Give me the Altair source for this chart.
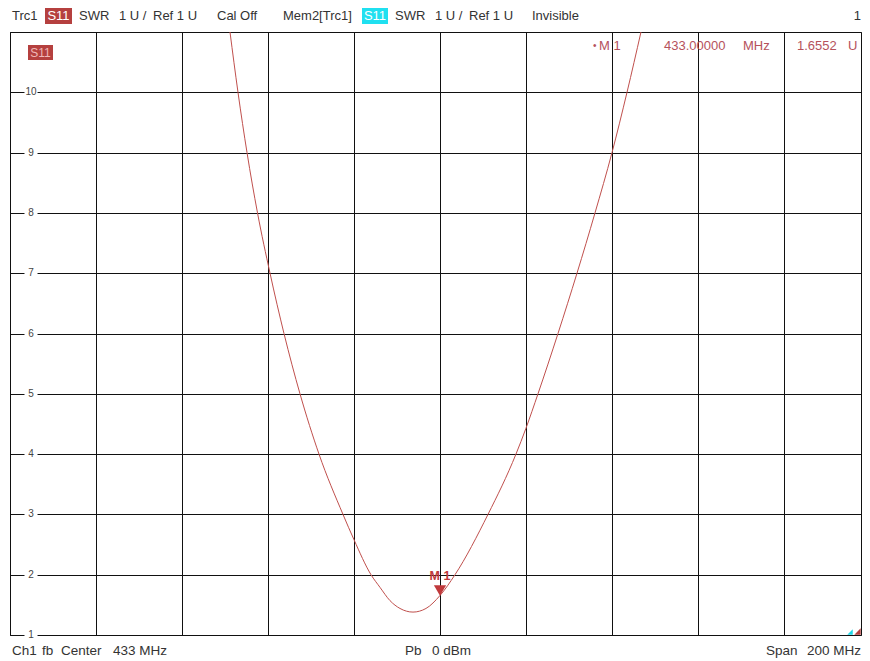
import altair as alt
import pandas as pd

# ---- data ----
freq_mhz = [384.16, 386.02, 388.12, 390.56, 393.47, 396.72, 400.44, 404.86, 410.44,
            413.0, 416.95, 419.05, 421.37, 423.70, 426.72, 429.74, 433.0, 436.49,
            444.16, 450.67, 453.0, 455.79, 460.44, 464.86, 469.05, 473.0, 476.49, 479.74]
swr_u = [11.0, 10.0, 9.0, 8.0, 7.0, 6.0, 5.0, 4.0, 3.0,
         2.58, 2.0, 1.79, 1.57, 1.44, 1.38, 1.44, 1.6552, 2.0,
         3.0, 4.0, 4.43, 5.0, 6.0, 7.0, 8.0, 9.0, 10.0, 11.0]

x_ticks = [333, 353, 373, 393, 413, 433, 453, 473, 493, 513, 533]
y_ticks = [1, 2, 3, 4, 5, 6, 7, 8, 9, 10, 11]
y_labels = ["1", "2", "3", "4", "5", "6", "7", "8", "9", "10"]
y_label_vals = [1, 2, 3, 4, 5, 6, 7, 8, 9, 10]

marker_f = [433.0]
marker_v = [1.6552]
marker_name = ["M 1"]

header_texts = ["Trc1", "SWR", "1 U /", "Ref 1 U", "Cal Off", "Mem2[Trc1]",
                "SWR", "1 U /", "Ref 1 U", "Invisible"]
header_x = [2, 69, 109, 143, 207, 273, 385, 425, 459, 522]
footer_texts = ["Ch1", "fb", "Center", "433 MHz", "Pb", "0 dBm", "Span"]
footer_x = [2, 32, 51, 103, 395, 422, 756]
footer_right = "200 MHz"

W, H = 851, 603
PX_PER_MHZ = 4.3
FONT = "Liberation Sans"
TRACE = "#c0504d"
MK = "#b5525c"

curve = pd.DataFrame({"f": freq_mhz, "v": swr_u})
ylab = pd.DataFrame({"v": y_label_vals, "t": y_labels})
mk = pd.DataFrame({"f": marker_f, "v": marker_v, "n": marker_name})
hdr = pd.DataFrame({"t": header_texts, "x": header_x})
ftr = pd.DataFrame({"t": footer_texts, "x": footer_x})

xs = alt.Scale(domain=[333, 333 + W / PX_PER_MHZ], nice=False, zero=False)
ys = alt.Scale(domain=[1, 11], nice=False, zero=False)

grid_ax_x = alt.Axis(values=x_ticks, grid=True, labels=False, ticks=False, domain=False,
                     title=None, gridColor="#111111", gridOpacity=1, gridWidth=1)
grid_ax_y = alt.Axis(values=y_ticks, grid=True, labels=False, ticks=False, domain=False,
                     title=None, gridColor="#111111", gridOpacity=1, gridWidth=1)

line = alt.Chart(curve).mark_line(color=TRACE, strokeWidth=1, clip=True,
                                  interpolate="monotone").encode(
    x=alt.X("f:Q", scale=xs, axis=grid_ax_x),
    y=alt.Y("v:Q", scale=ys, axis=grid_ax_y),
    order=alt.Order("f:Q"),
)

lab_bg = alt.Chart(ylab).mark_point(shape="square", filled=True, color="white",
                                    size=170, opacity=1, strokeOpacity=0).encode(
    x=alt.value(21), y=alt.Y("v:Q", scale=ys))
lab_txt = alt.Chart(ylab).mark_text(font=FONT, fontSize=10, color="#444444",
                                    align="center", baseline="middle").encode(
    x=alt.value(21), y=alt.Y("v:Q", scale=ys), text="t:N")

tri = alt.Chart(mk).mark_point(shape="triangle-down", filled=True, color="#c0393b",
                               size=150, opacity=1, yOffset=-5, strokeOpacity=0).encode(
    x=alt.X("f:Q", scale=xs), y=alt.Y("v:Q", scale=ys))
tri_lab = alt.Chart(mk).mark_text(font=FONT, fontSize=12.5, color="#c0393b", fontWeight="bold",
                                  align="center", baseline="middle", dy=-19).encode(
    x=alt.X("f:Q", scale=xs), y=alt.Y("v:Q", scale=ys), text="n:N")

hdr_txt = alt.Chart(hdr).mark_text(font=FONT, fontSize=13, color="#333333",
                                   align="left", baseline="middle").encode(
    x=alt.X("x:Q", scale=None), y=alt.value(-16), text="t:N")

ftr_txt = alt.Chart(ftr).mark_text(font=FONT, fontSize=13.5, color="#333333",
                                   align="left", baseline="middle").encode(
    x=alt.X("x:Q", scale=None), y=alt.value(H + 16), text="t:N")


def box(x1, x2, y1, y2, color):
    return alt.Chart(pd.DataFrame({"a": [0]})).mark_rect(color=color).encode(
        x=alt.value(x1), x2=alt.value(x2), y=alt.value(y1), y2=alt.value(y2))


def txt(s, x, y, color="#333333", size=13, align="left"):
    return alt.Chart(pd.DataFrame({"t": [s]})).mark_text(
        font=FONT, fontSize=size, color=color, align=align, baseline="middle").encode(
        x=alt.value(x), y=alt.value(y), text="t:N")


layers = [
    line,
    lab_bg, lab_txt,
    hdr_txt,
    box(35, 62, -24, -8, "#b5403f"), txt("S11", 48.5, -16, "white", 13, "center"),
    box(352, 378, -24, -8, "#1fe0f0"), txt("S11", 365, -16, "white", 13, "center"),
    txt("1", 851, -16, "#333333", 13, "right"),
    box(18, 43, 13, 28, "#b5403f"), txt("S11", 30.5, 20.5, "#f0b8b8", 12, "center"),
    txt("\u2022", 583, 14, MK, 10, "left"),
    txt("M 1", 589, 14, MK, 13, "left"),
    txt("433.00000", 654, 14, MK, 13, "left"),
    txt("MHz", 733, 14, MK, 13, "left"),
    txt("1.6552", 787, 14, MK, 13, "left"),
    txt("U", 838, 14, MK, 13, "left"),
    tri, tri_lab,
    alt.Chart(pd.DataFrame({"a": [0]})).mark_point(
        shape="M -1 1 L 1 -1 L 1 1 Z", filled=True, color="#20d8e8", size=30,
        opacity=1, strokeOpacity=0).encode(x=alt.value(W - 11), y=alt.value(H - 3)),
    alt.Chart(pd.DataFrame({"a": [0]})).mark_point(
        shape="M -1 1 L 1 -1 L 1 1 Z", filled=True, color="#b5403f", size=40,
        opacity=1, strokeOpacity=0).encode(x=alt.value(W - 3.5), y=alt.value(H - 3.5)),
    ftr_txt,
    txt(footer_right, 851, H + 16, "#333333", 13.5, "right"),
]

chart = alt.layer(*layers).properties(
    width=W, height=H,
    autosize=alt.AutoSizeParams(type="none"),
    padding={"left": 2, "top": 24, "right": 1, "bottom": 24},
    background="white",
).configure_view(stroke="#111111", strokeWidth=1)

chart.save("out.html", embed_options={"renderer": "svg", "actions": False})
